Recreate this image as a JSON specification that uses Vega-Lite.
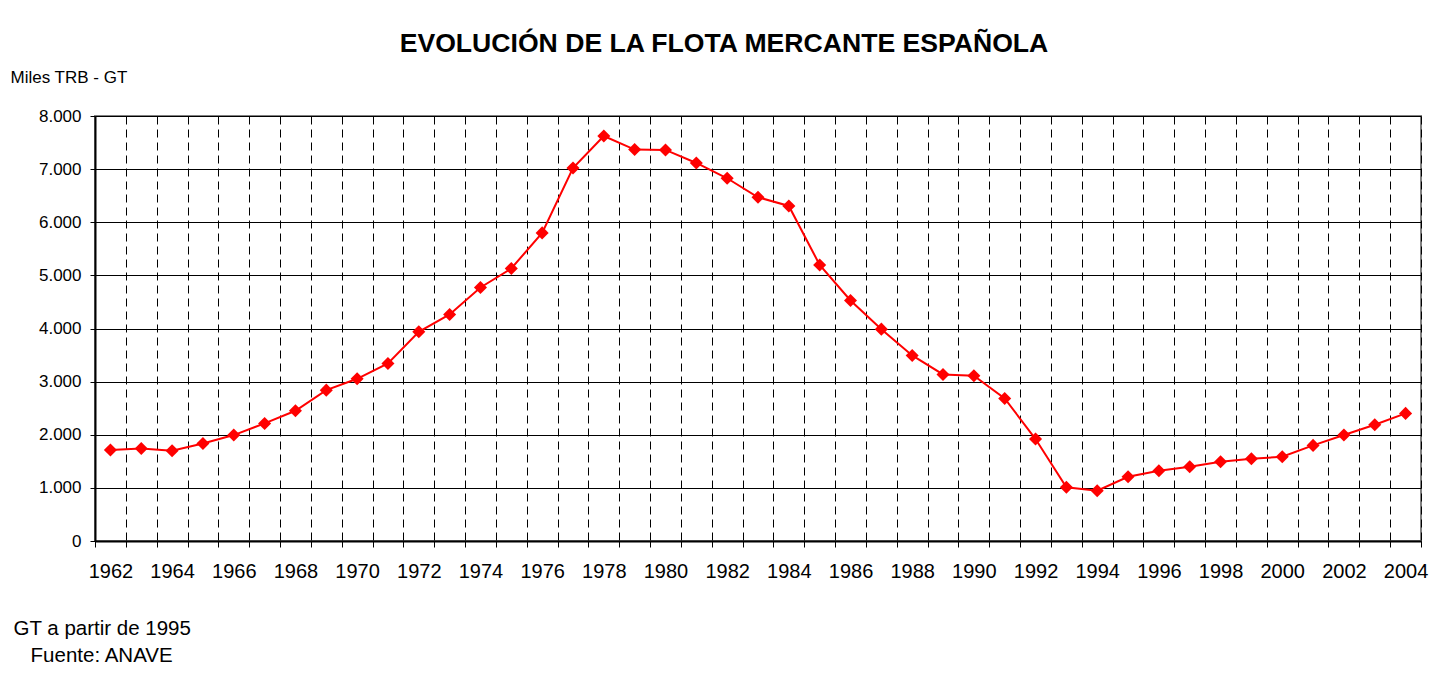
{
  "$schema": "https://vega.github.io/schema/vega-lite/v6.json",
  "autosize": "none",
  "width": 1326,
  "height": 425,
  "padding": {"left": 95, "top": 116, "right": 10, "bottom": 133},
  "background": "white",
  "title": {
    "text": "EVOLUCIÓN DE LA FLOTA MERCANTE ESPAÑOLA",
    "font": "Liberation Sans",
    "fontSize": 26.6,
    "fontWeight": "bold",
    "color": "black",
    "anchor": "middle",
    "frame": "group",
    "dx": -34,
    "offset": 10
  },
  "config": {
    "font": "Liberation Sans",
    "view": {"stroke": "#808080", "strokeWidth": 2}
  },
  "data": {
    "values": [
      {"year": 1962, "value": 1712},
      {"year": 1963, "value": 1743},
      {"year": 1964, "value": 1699},
      {"year": 1965, "value": 1837},
      {"year": 1966, "value": 1994},
      {"year": 1967, "value": 2213},
      {"year": 1968, "value": 2451},
      {"year": 1969, "value": 2840},
      {"year": 1970, "value": 3053},
      {"year": 1971, "value": 3342},
      {"year": 1972, "value": 3937},
      {"year": 1973, "value": 4264},
      {"year": 1974, "value": 4772},
      {"year": 1975, "value": 5129},
      {"year": 1976, "value": 5800},
      {"year": 1977, "value": 7022},
      {"year": 1978, "value": 7624},
      {"year": 1979, "value": 7368},
      {"year": 1980, "value": 7361},
      {"year": 1981, "value": 7116},
      {"year": 1982, "value": 6828},
      {"year": 1983, "value": 6471},
      {"year": 1984, "value": 6307},
      {"year": 1985, "value": 5197},
      {"year": 1986, "value": 4527},
      {"year": 1987, "value": 3988},
      {"year": 1988, "value": 3493},
      {"year": 1989, "value": 3135},
      {"year": 1990, "value": 3110},
      {"year": 1991, "value": 2684},
      {"year": 1992, "value": 1919},
      {"year": 1993, "value": 1010},
      {"year": 1994, "value": 947},
      {"year": 1995, "value": 1210},
      {"year": 1996, "value": 1323},
      {"year": 1997, "value": 1398},
      {"year": 1998, "value": 1492},
      {"year": 1999, "value": 1549},
      {"year": 2000, "value": 1586},
      {"year": 2001, "value": 1800},
      {"year": 2002, "value": 1994},
      {"year": 2003, "value": 2188},
      {"year": 2004, "value": 2402}
    ]
  },
  "encoding": {
    "x": {
      "field": "year",
      "type": "ordinal",
      "scale": {"type": "band", "paddingInner": 0, "paddingOuter": 0},
      "axis": {
        "title": ["GT a partir de 1995", "\u200b\u00a0\u00a0\u00a0Fuente: ANAVE"],
        "titleFont": "Liberation Sans",
        "titleFontSize": 20.5,
        "titleFontWeight": "normal",
        "titleColor": "black",
        "titleAnchor": "start",
        "titleAlign": "left",
        "titleBaseline": "alphabetic",
        "titleX": -82,
        "titleY": 93,
        "titleLineHeight": 27,
        "labelAngle": 0,
        "labelFontSize": 20,
        "labelColor": "black",
        "labelOverlap": false,
        "labelPadding": 14,
        "labelExpr": "datum.value % 2 == 0 ? datum.label : ''",
        "tickBand": "extent",
        "tickSize": 6,
        "tickColor": "black",
        "tickWidth": 1,
        "domainColor": "black",
        "domainWidth": 2,
        "grid": true,
        "gridColor": "black",
        "gridDash": [8, 5],
        "gridWidth": 1,
        "gridOpacity": 1
      }
    },
    "y": {
      "field": "value",
      "type": "quantitative",
      "scale": {"domain": [0, 8000], "nice": false},
      "axis": {
        "values": [0, 1000, 2000, 3000, 4000, 5000, 6000, 7000, 8000],
        "labelExpr": "replace(format(datum.value, ','), ',', '.')",
        "labelFontSize": 17,
        "labelColor": "black",
        "labelPadding": 9,
        "tickSize": 5,
        "tickColor": "black",
        "domainColor": "black",
        "domainWidth": 2,
        "grid": true,
        "gridColor": "black",
        "gridWidth": 1,
        "gridOpacity": 1,
        "title": "Miles TRB - GT",
        "titleAngle": 0,
        "titleFont": "Liberation Sans",
        "titleFontSize": 17,
        "titleFontWeight": "normal",
        "titleColor": "black",
        "titleAlign": "left",
        "titleBaseline": "middle",
        "titleX": -85,
        "titleY": -39
      }
    }
  },
  "layer": [
    {"mark": {"type": "line", "color": "#FF0000", "strokeWidth": 2}},
    {"mark": {"type": "point", "shape": "diamond", "filled": true, "color": "#FF0000", "opacity": 1, "size": 170}}
  ]
}
